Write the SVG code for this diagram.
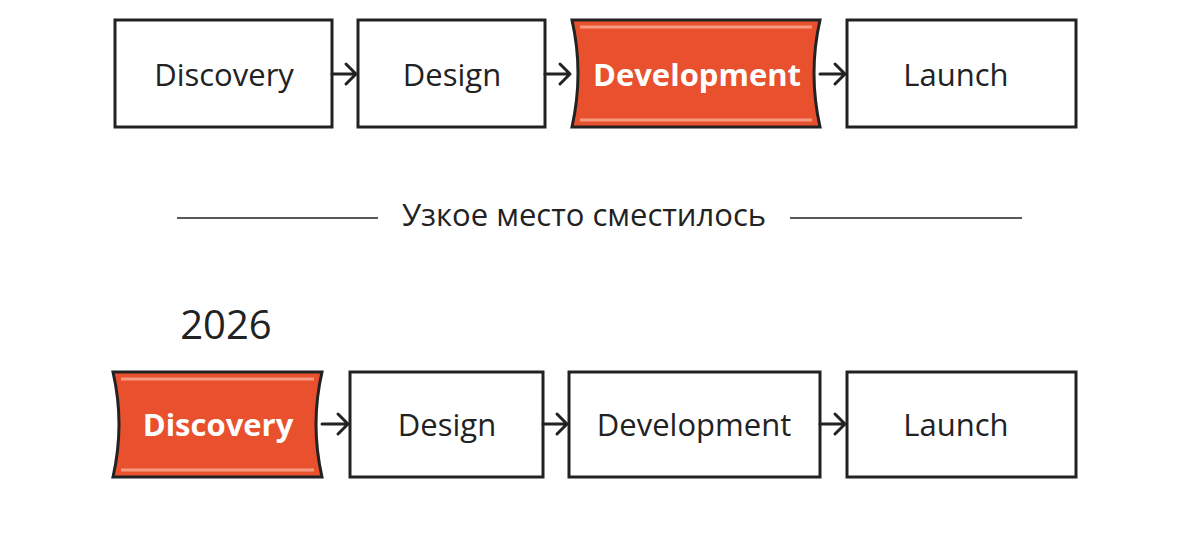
<svg xmlns="http://www.w3.org/2000/svg" width="1200" height="555" viewBox="0 0 1200 555">
<style>
.box{fill:#fff;stroke:#222;stroke-width:3}
.hot{fill:#E8502E;stroke:#222;stroke-width:3}
.in{fill:none;stroke:#F59A80;stroke-width:3}
.t{font-family:"Open Sans",sans-serif;font-size:31px;fill:#222;text-anchor:middle;dominant-baseline:central}
.tw{font-family:"Open Sans",sans-serif;font-size:31px;font-weight:bold;fill:#fff;text-anchor:middle;dominant-baseline:central}
.c{stroke:#222;stroke-width:3;fill:none;stroke-linecap:round;stroke-linejoin:round}
.l{stroke:#222;stroke-width:1.5}
</style>
<rect width="1200" height="555" fill="#fff"/>
<g id="t-discovery"><rect class="box" x="115" y="20" width="217" height="107"/><text class="t" x="224" y="74">Discovery</text></g>
<g id="t-design"><rect class="box" x="358" y="20" width="187" height="107"/><text class="t" x="452" y="74">Design</text></g>
<g id="t-development"><path class="hot" d="M572 20 L820 20 Q808 73 820 127 L572 127 Q584 73 572 20Z"/><path class="in" d="M580 27 L812 27 M580 120 L812 120"/><text class="tw" x="697" y="74">Development</text></g>
<g id="t-launch"><rect class="box" x="847" y="20" width="229" height="107"/><text class="t" x="956" y="74">Launch</text></g>
<g id="divider"><line class="l" x1="177" y1="218" x2="378" y2="218"/><line class="l" x1="790" y1="218" x2="1022" y2="218"/><text class="t" x="584" y="214" font-size="30">Узкое место сместилось</text></g>
<text class="t" x="226" y="323" font-size="40" style="font-size:40px">2026</text>
<g id="b-discovery"><path class="hot" d="M113 372 L322 372 Q310 424 322 477 L113 477 Q125 424 113 372Z"/><path class="in" d="M121 379 L314 379 M121 470 L314 470"/><text class="tw" x="218" y="424">Discovery</text></g>
<g id="b-design"><rect class="box" x="350" y="372" width="193" height="105"/><text class="t" x="447" y="424">Design</text></g>
<g id="b-development"><rect class="box" x="569" y="372" width="251" height="105"/><text class="t" x="694" y="424">Development</text></g>
<g id="b-launch"><rect class="box" x="847" y="372" width="229" height="105"/><text class="t" x="956" y="424">Launch</text></g>
<g id="connectors">
<path class="c" d="M332 74 H356 M346 64 L356 74 L346 84"/>
<path class="c" d="M545 74 H570 M560 64 L570 74 L560 84"/>
<path class="c" d="M820 74 H845 M835 64 L845 74 L835 84"/>
<path class="c" d="M322 424 H348 M338 414 L348 424 L338 434"/>
<path class="c" d="M543 424 H567 M557 414 L567 424 L557 434"/>
<path class="c" d="M820 424 H845 M835 414 L845 424 L835 434"/>
</g>
</svg>
